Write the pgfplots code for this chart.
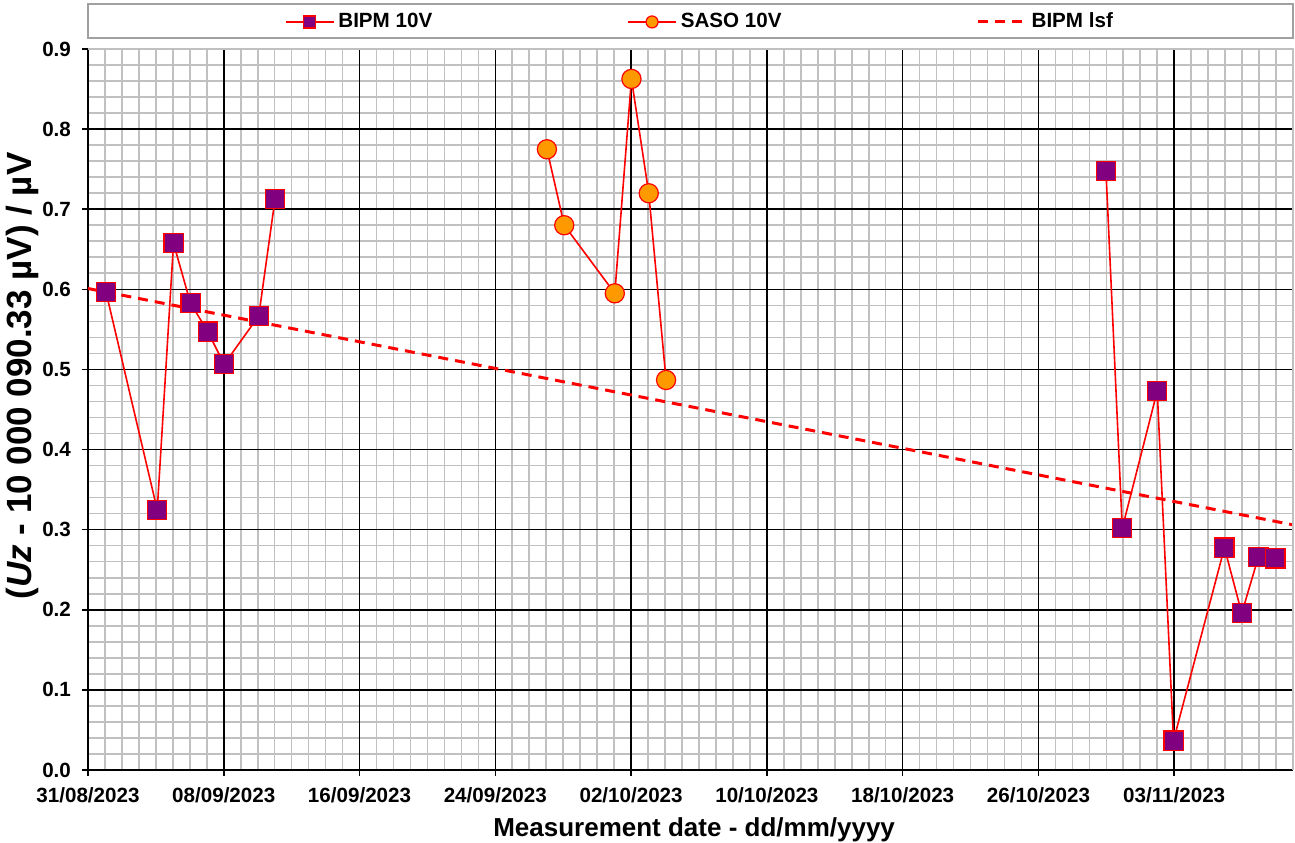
\documentclass[border=0pt]{standalone}
\usepackage{fontspec}
\setmainfont{Liberation Sans}
\usepackage{pgfplots}
\pgfplotsset{compat=1.18}
\definecolor{bpurple}{HTML}{800080}
\definecolor{sorange}{HTML}{FF9900}
\definecolor{gridgray}{HTML}{C0C0C0}
\definecolor{framegray}{HTML}{A0A0A0}
\begin{document}
\begin{tikzpicture}
\begin{axis}[
  scale only axis, width=602.5pt, height=360.5pt,
  xmin=0, xmax=71, ymin=0, ymax=0.9,
  clip=false,
  axis lines=left, axis line style={-, black, line width=0.75pt},
  xtick={0,8,16,24,32,40,48,56,64},
  xticklabels={31/08/2023,08/09/2023,16/09/2023,24/09/2023,02/10/2023,10/10/2023,18/10/2023,26/10/2023,03/11/2023},
  minor xtick={1,2,3,4,5,6,7,9,10,11,12,13,14,15,17,18,19,20,21,22,23,25,26,27,28,29,30,31,33,34,35,36,37,38,39,41,42,43,44,45,46,47,49,50,51,52,53,54,55,57,58,59,60,61,62,63,65,66,67,68,69,70,71},
  ytick={0,0.1,0.2,0.3,0.4,0.5,0.6,0.7,0.8,0.9},
  yticklabels={0.0,0.1,0.2,0.3,0.4,0.5,0.6,0.7,0.8,0.9},
  minor ytick={0.02,0.04,0.06,0.08,0.12,0.14,0.16,0.18,0.22,0.24,0.26,0.28,0.32,0.34,0.36,0.38,0.42,0.44,0.46,0.48,0.52,0.54,0.56,0.58,0.62,0.64,0.66,0.68,0.72,0.74,0.76,0.78,0.82,0.84,0.86,0.88},
  xmajorgrids=false, ymajorgrids=false,
  xminorgrids=true, yminorgrids=true,
  minor grid style={gridgray, line width=0.8pt},
  extra x ticks={8,16,24,32,40,48,56,64},
  extra x tick labels={},
  extra y ticks={0.1,0.2,0.3,0.4,0.5,0.6,0.7,0.8},
  extra y tick labels={},
  extra tick style={grid=major, major grid style={black, line width=0.75pt}, major tick length=0pt},
  tick align=outside, major tick length=3pt, minor tick length=0pt,
  tick style={black, line width=0.75pt},
  xticklabel style={font=\fontsize{10.3}{12}\selectfont\bfseries, yshift=-2.5pt},
  yticklabel style={font=\fontsize{10.3}{12}\selectfont\bfseries, xshift=-2pt},
  xlabel={Measurement date - dd/mm/yyyy},
  ylabel={(\textit{Uz} - 10 000 090.33 µV) / µV},
  every axis x label/.style={at={(axis description cs:0.503,-0.083)}, anchor=center, font=\fontsize{13}{15}\selectfont\bfseries},
  every axis y label/.style={at={(axis description cs:-0.0548,0.5465)}, anchor=center, rotate=90, font=\fontsize{17.5}{19}\selectfont\bfseries},
  unbounded coords=jump,
  legend columns=3,
  legend cell align=left,
  legend style={at={(rel axis cs:0.158,1.0375)}, anchor=west, draw=none, fill=none,
    font=\fontsize{10.3}{12}\selectfont\bfseries,
    /tikz/every even column/.append style={column sep=95.5pt}},
  legend image code/.code={\draw[mark size=3pt, mark repeat=2, mark phase=2] plot coordinates {(0pt,0pt) (12pt,0pt) (24pt,0pt)};},
]
\draw[framegray, line width=1pt] (rel axis cs:0,1.0157) rectangle (rel axis cs:1,1.0624);
\addplot[red, line width=0.8pt, mark=square*, mark size=4.8pt, mark options={fill=bpurple, draw=red, line width=0.6pt}]
coordinates {
(1.06,0.5967) (4.08,0.3246) (5.04,0.6575) (6.04,0.5826) (7.06,0.5472) (8.02,0.5064) (10.06,0.5667) (11.02,0.7124)
(30,nan)
(59.98,0.7477) (60.94,0.3017) (63.0,0.473) (63.96,0.0366) (66.96,0.2775) (67.98,0.1956) (68.96,0.2659) (69.96,0.2642)
};
\addlegendentry{BIPM 10V}
\addplot[red, line width=0.8pt, mark=*, mark size=4.8pt, mark options={fill=sorange, draw=red, line width=0.6pt}]
coordinates {
(27.04,0.7748) (28.06,0.680) (31.04,0.595) (32.02,0.8626) (33.04,0.7199) (34.06,0.4868)
};
\addlegendentry{SASO 10V}
\addplot[red, line width=1.5pt, dash pattern=on 5pt off 3.5pt]
coordinates {(0,0.601) (71,0.306)};
\addlegendentry{BIPM lsf}
\draw[gridgray, line width=0.9pt] (rel axis cs:0,1) -- (rel axis cs:1,1) -- (rel axis cs:1,0);
\end{axis}
\pgfresetboundingbox
\path[use as bounding box] ([shift={(-44pt,-36.5pt)}]current axis.south west) rectangle ([shift={(1pt,24.5pt)}]current axis.north east);
\end{tikzpicture}
\end{document}
